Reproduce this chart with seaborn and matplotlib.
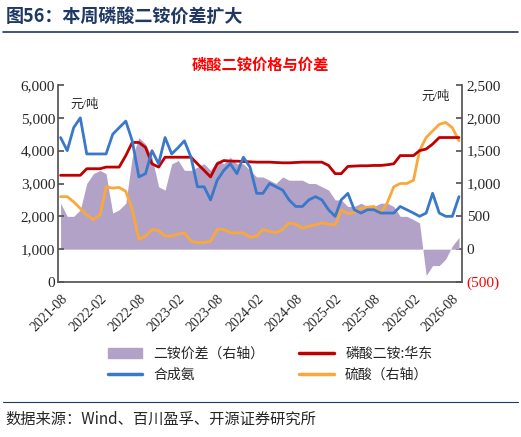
import matplotlib
matplotlib.use("Agg")
import matplotlib.pyplot as plt
import seaborn as sns
import pandas as pd
import numpy as np
import matplotlib.dates as mdates
from matplotlib.patches import Patch
from matplotlib.lines import Line2D

sns.set_theme(style="white")
plt.rcParams['font.family'] = ['Liberation Serif', 'Noto Sans CJK SC', 'DejaVu Sans']

dates = pd.date_range("2021-08-01", "2026-09-01", freq="MS")
nh3 = [4400,4000,4700,5000,3900,3900,3900,3900,4500,4700,4900,4300,3200,3300,4000,3600,4400,3900,4100,4300,
       3800,2900,2900,2500,3100,3400,3600,3300,3800,3500,2700,2700,3000,2900,2800,2500,2300,2300,2500,2600,
       2500,2200,2000,2500,2700,2200,2100,2200,2200,2100,2100,2100,2300,2200,2100,2000,2100,2700,2100,2000,2000,2600]
dap = [3250,3250,3250,3250,3450,3450,3450,3500,3500,3500,3850,4250,4250,4100,3600,3500,3800,3800,3800,3800,
       3800,3600,3400,3200,3600,3700,3680,3680,3670,3660,3650,3650,3650,3640,3630,3630,3640,3650,3650,3650,
       3650,3550,3300,3300,3520,3530,3540,3540,3550,3550,3570,3600,3850,3850,3850,4000,4050,4200,4400,4400,4400,4400]
h2so4 = [800,800,720,620,520,450,520,950,930,940,880,600,150,200,300,280,200,200,230,250,
         120,100,100,120,300,300,250,250,250,180,200,300,270,250,300,400,380,320,350,370,
         400,380,370,600,540,560,620,640,650,550,700,950,1000,1000,1050,1500,1700,1800,1900,1930,1850,1650]
spread = [700,500,500,600,1000,1150,1200,1150,550,600,700,1400,1700,1600,1400,950,900,1300,1350,1200,
          1200,1250,1300,1200,1350,1300,1400,1300,1300,1200,1100,1100,1050,1000,1100,1050,1050,1050,1000,1000,
          950,900,750,750,650,650,700,650,650,700,700,650,500,500,450,400,-400,-250,-250,-150,50,180]

df = pd.DataFrame({"date": dates, "nh3": nh3, "dap": dap, "h2so4": h2so4, "spread": spread})

fig = plt.figure(figsize=(5.21, 4.37), dpi=100)
ax = fig.add_axes([58/521, 1-282/437, (462-58)/521, (282-85)/437])
ax2 = ax.twinx()

purple = "#b3a2c7"
ax2.fill_between(df["date"], 0, df["spread"], color=purple, linewidth=0, zorder=1)
sns.lineplot(data=df, x="date", y="h2so4", ax=ax2, color="#f9a83c", linewidth=2, zorder=3)
sns.lineplot(data=df, x="date", y="dap", ax=ax, color="#c00000", linewidth=2, zorder=4)
sns.lineplot(data=df, x="date", y="nh3", ax=ax, color="#3a78c9", linewidth=2, zorder=5)
ax.set_zorder(ax2.get_zorder() + 1)
ax.patch.set_visible(False)

ax.set_ylim(0, 6000)
ax2.set_ylim(-500, 2500)
ax.set_xlim(pd.Timestamp("2021-07-20"), pd.Timestamp("2026-09-15"))
ax.set_yticks(range(0, 6001, 1000))
ax.set_yticklabels([f"{v:,}" for v in range(0, 6001, 1000)], fontsize=11)
ax2.set_yticks(range(-500, 2501, 500))
lbls = ["(500)"] + [f"{v:,}" for v in range(0, 2501, 500)]
ax2.set_yticklabels(lbls, fontsize=11)
ax2.get_yticklabels()[0].set_color("red")
xt = pd.date_range("2021-08-01", "2026-08-01", freq="6MS")
ax.set_xticks(xt)
ax.set_xticklabels([d.strftime("%Y-%m") for d in xt], rotation=45, ha="right", fontsize=10, rotation_mode="anchor")
ax.set_xlabel(""); ax.set_ylabel(""); ax2.set_xlabel(""); ax2.set_ylabel("")
for a in (ax, ax2):
    for s in a.spines.values():
        s.set_visible(False)
    a.tick_params(length=0)
ax.spines['left'].set_visible(True); ax.spines['left'].set_color("#555555")
ax.spines['bottom'].set_visible(True); ax.spines['bottom'].set_color("#555555")
ax2.spines['right'].set_visible(True); ax2.spines['right'].set_color("#555555")
ax.tick_params(axis='x', length=4, direction='out', color="#555555")
ax.tick_params(axis='y', length=4, direction='in', color="#555555")
ax2.tick_params(axis='y', length=4, direction='in', color="#555555")
ax.tick_params(axis='y', pad=2)

ax.text(0.03, 0.93, "元/吨", transform=ax.transAxes, fontsize=9, va="top")
ax.text(0.97, 0.97, "元/吨", transform=ax.transAxes, fontsize=9, va="top", ha="right")

fig.text(0.01, 1-16/437, "图56：本周磷酸二铵价差扩大", fontsize=13, fontweight="bold", color="#1f3864", va="center",
         family=['Noto Sans CJK SC'])
fig.add_artist(Line2D([0.005, 0.995], [1-32/437]*2, color="#1f3864", lw=1.2))
fig.text(260/521, 1-65/437, "磷酸二铵价格与价差", fontsize=11, color="red", ha="center", va="center",
         fontweight="bold", family=['Noto Sans CJK SC'])

handles = [Patch(color=purple), Line2D([], [], color="#3a78c9", lw=2.5),
           Line2D([], [], color="#c00000", lw=2.5), Line2D([], [], color="#f9a83c", lw=2.5)]
labels = ["二铵价差（右轴）", "合成氨", "磷酸二铵:华东", "硫酸（右轴）"]
fig.legend(handles, labels, ncol=2, loc="center", bbox_to_anchor=(270/521, 1-364/437), frameon=False,
           fontsize=10, columnspacing=2.5, handlelength=2.5, prop={'family': ['Noto Sans CJK SC'], 'size': 10})
fig.add_artist(Line2D([0.005, 0.995], [1-402/437]*2, color="#1f3864", lw=0.8))
fig.text(0.01, 1-419/437, "数据来源：Wind、百川盈孚、开源证券研究所", fontsize=11, va="center",
         family=['Noto Sans CJK SC', 'DejaVu Sans'])

fig.savefig("out.png", dpi=100)
